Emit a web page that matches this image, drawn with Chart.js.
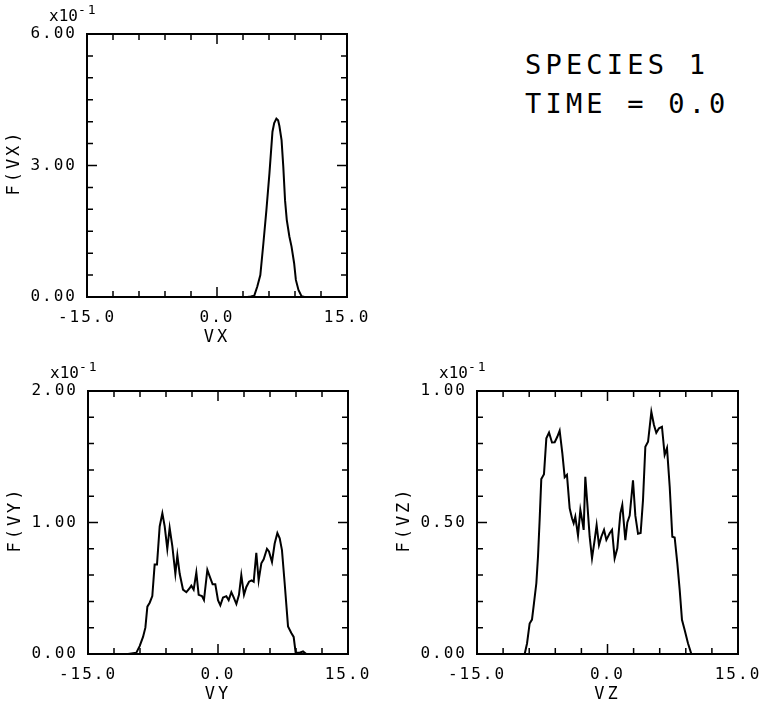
<!DOCTYPE html>
<html><head><meta charset="utf-8">
<script src="https://cdn.jsdelivr.net/npm/chart.js@4/dist/chart.umd.min.js"></script>
<style>
html,body{margin:0;padding:0;background:#fff;width:761px;height:706px;overflow:hidden;position:relative;}
.box{position:absolute;}
.lbl{position:absolute;font-family:"DejaVu Sans Mono",monospace;font-size:27px;line-height:27px;letter-spacing:4.2px;color:#000;white-space:pre;}
</style></head><body>
<div class="lbl" style="left:525px;top:51px">SPECIES 1</div>
<div class="lbl" style="left:525px;top:90px">TIME = 0.0</div>
<div class="box" style="left:0;top:0;width:380px;height:350px"><canvas id="c1"></canvas></div>
<div class="box" style="left:0;top:350px;width:380px;height:356px"><canvas id="c2"></canvas></div>
<div class="box" style="left:380px;top:350px;width:381px;height:356px"><canvas id="c3"></canvas></div>
<script>
// ---- data (F values in units of x10^-1) ----
const vxV = [3.5, 3.9, 4.3, 4.65, 5.0, 5.35, 5.7, 6.05, 6.4, 6.6, 6.85, 7.05, 7.2, 7.45, 7.65, 7.85, 8.05, 8.35, 8.6, 8.9, 9.1, 9.4, 9.75, 10.1];
const vxF = [0.0, 0.01, 0.03, 0.24, 0.50, 1.22, 1.98, 2.82, 3.77, 3.97, 4.07, 4.03, 3.90, 3.58, 2.97, 2.21, 1.76, 1.38, 1.15, 0.77, 0.39, 0.16, 0.02, 0.0];

const vyV = [-10.38, -9.42, -9.04, -8.65, -8.38, -8.15, -7.88, -7.58, -7.31, -7.04, -6.73, -6.42, -6.15, -5.85, -5.58, -5.27, -4.92, -4.69, -4.42, -4.04, -3.65, -3.27, -3.08, -2.81, -2.50, -2.23, -1.85, -1.62, -1.23, -0.96, -0.62, -0.31, 0.00, 0.27, 0.58, 0.96, 1.23, 1.54, 1.81, 2.12, 2.42, 2.69, 3.00, 3.27, 3.58, 3.88, 4.12, 4.42, 4.69, 5.00, 5.27, 5.65, 5.88, 6.23, 6.54, 6.85, 7.12, 7.38, 7.69, 8.08, 8.46, 8.73, 8.96, 9.42, 9.81, 10.19];
const vyF = [0.0, 0.01, 0.06, 0.13, 0.20, 0.36, 0.39, 0.44, 0.68, 0.68, 0.97, 1.07, 0.97, 0.80, 0.96, 0.82, 0.61, 0.75, 0.61, 0.49, 0.47, 0.50, 0.52, 0.49, 0.62, 0.45, 0.44, 0.41, 0.64, 0.59, 0.53, 0.53, 0.41, 0.37, 0.43, 0.44, 0.41, 0.47, 0.43, 0.38, 0.45, 0.60, 0.45, 0.51, 0.55, 0.56, 0.55, 0.77, 0.56, 0.69, 0.72, 0.80, 0.78, 0.70, 0.84, 0.92, 0.88, 0.79, 0.54, 0.21, 0.16, 0.13, 0.01, 0.01, 0.02, 0.0];

const vzV = [-9.52, -9.25, -8.95, -8.68, -8.45, -8.18, -7.99, -7.80, -7.61, -7.30, -7.03, -6.72, -6.38, -6.07, -5.77, -5.50, -5.19, -4.92, -4.66, -4.35, -4.08, -3.89, -3.70, -3.39, -3.12, -2.89, -2.74, -2.55, -2.32, -2.05, -1.78, -1.48, -1.25, -0.98, -0.71, -0.40, -0.13, 0.25, 0.52, 0.82, 1.13, 1.48, 1.70, 2.05, 2.28, 2.55, 2.93, 3.20, 3.51, 3.81, 4.08, 4.35, 4.66, 5.04, 5.34, 5.61, 5.92, 6.26, 6.57, 6.84, 7.15, 7.45, 7.72, 8.03, 8.30, 8.56, 8.87, 9.25, 9.64];
const vzF = [0.0, 0.04, 0.116, 0.131, 0.193, 0.269, 0.37, 0.51, 0.665, 0.684, 0.82, 0.842, 0.804, 0.805, 0.826, 0.849, 0.763, 0.672, 0.681, 0.554, 0.516, 0.497, 0.522, 0.45, 0.548, 0.504, 0.472, 0.674, 0.572, 0.446, 0.364, 0.433, 0.49, 0.414, 0.446, 0.472, 0.434, 0.459, 0.472, 0.364, 0.402, 0.535, 0.567, 0.433, 0.50, 0.526, 0.66, 0.526, 0.457, 0.46, 0.585, 0.788, 0.807, 0.921, 0.871, 0.841, 0.858, 0.864, 0.757, 0.783, 0.636, 0.446, 0.443, 0.344, 0.243, 0.13, 0.091, 0.041, 0.0];

// ---- tick labels ----
const xTickValues = [-15, 0, 15];
const vxTickValues = [0, 3, 6];
const vyTickValues = [0, 1, 2];
const vzTickValues = [0, 0.5, 1];

const tickFont = {family: '"DejaVu Sans Mono", monospace', size: 16};

const frameTicks = {
  id: 'frameTicks',
  beforeDraw(chart) { chart.ctx.letterSpacing = '2px'; },
  afterDraw(chart, args, o) {
    const ctx = chart.ctx, a = chart.chartArea, xs = chart.scales.x, ys = chart.scales.y;
    ctx.save();
    ctx.strokeStyle = '#000'; ctx.fillStyle = '#000';
    ctx.lineWidth = 2;
    ctx.strokeRect(a.left, a.top, a.right - a.left, a.bottom - a.top);
    ctx.lineWidth = 1.5;
    ctx.beginPath();
    const xCount = 10;
    for (let i = 1; i < xCount; i++) {
      const p = xs.getPixelForValue(xs.min + i * (xs.max - xs.min) / xCount);
      const L = (i === xCount / 2) ? 10 : 6;
      ctx.moveTo(p, a.bottom); ctx.lineTo(p, a.bottom - L);
      ctx.moveTo(p, a.top); ctx.lineTo(p, a.top + L);
    }
    for (let i = 1; i < o.yCount; i++) {
      const p = ys.getPixelForValue(ys.min + i * (ys.max - ys.min) / o.yCount);
      const L = (i === o.yCount / 2) ? 10 : 6;
      ctx.moveTo(a.left, p); ctx.lineTo(a.left + L, p);
      ctx.moveTo(a.right, p); ctx.lineTo(a.right - L, p);
    }
    ctx.stroke();
    // titles
    ctx.font = '17px "DejaVu Sans Mono", monospace';
    ctx.letterSpacing = '3px';
    ctx.textAlign = 'center'; ctx.textBaseline = 'middle';
    ctx.fillText(o.xTitle, (a.left + a.right) / 2, a.bottom + 41);
    ctx.save();
    ctx.translate(a.left - 72, (a.top + a.bottom) / 2);
    ctx.rotate(-Math.PI / 2);
    ctx.fillText(o.yTitle, 3, 0);
    ctx.restore();
    // exponent
    ctx.textAlign = 'left'; ctx.textBaseline = 'alphabetic';
    ctx.font = '16px "DejaVu Sans Mono", monospace';
    ctx.letterSpacing = '0px';
    ctx.fillText('x10', a.left - 38, a.top - 13);
    ctx.font = '13px "DejaVu Sans Mono", monospace';
    ctx.letterSpacing = '2px';
    ctx.fillText('-1', a.left - 9, a.top - 20);
    ctx.restore();
  }
};

function makeChart(id, xv, fv, yMax, yTicks, yDec, yCount, xTitle, yTitle, pad) {
  return new Chart(document.getElementById(id), {
    type: 'line',
    data: {datasets: [{data: xv.map((x, i) => ({x: x, y: fv[i]})), borderColor: '#000', borderWidth: 2, pointRadius: 0, tension: 0, fill: false}]},
    options: {
      responsive: true, maintainAspectRatio: false, animation: false, devicePixelRatio: 1,
      layout: {padding: pad},
      plugins: {legend: {display: false}, tooltip: {enabled: false}, frameTicks: {yCount: yCount, xTitle: xTitle, yTitle: yTitle}},
      scales: {
        x: {type: 'linear', min: -15, max: 15,
            afterBuildTicks: s => { s.ticks = xTickValues.map(v => ({value: v})); },
            ticks: {autoSkip: false, maxRotation: 0, padding: 11, font: tickFont, color: '#000', callback: v => Number(v).toFixed(1)},
            grid: {display: false, drawTicks: false}, border: {display: false},
            afterFit: s => { s.height = 52; s.paddingLeft = 0; s.paddingRight = 0; }},
        y: {type: 'linear', min: 0, max: yMax,
            afterBuildTicks: s => { s.ticks = yTicks.map(v => ({value: v})); },
            ticks: {autoSkip: false, padding: 10, font: tickFont, color: '#000', callback: v => Number(v).toFixed(yDec)},
            grid: {display: false, drawTicks: false}, border: {display: false},
            afterFit: s => { s.width = 87; s.paddingTop = 0; s.paddingBottom = 0; }}
      }
    },
    plugins: [frameTicks]
  });
}

makeChart('c1', vxV, vxF, 6, vxTickValues, 2, 12, 'VX', 'F(VX)', {left: 0, top: 34, right: 33, bottom: 1});
makeChart('c2', vyV, vyF, 2, vyTickValues, 2, 10, 'VY', 'F(VY)', {left: 1, top: 41, right: 32, bottom: 0});
makeChart('c3', vzV, vzF, 1, vzTickValues, 2, 10, 'VZ', 'F(VZ)', {left: 10, top: 41, right: 23, bottom: 0});
</script>
</body></html>
